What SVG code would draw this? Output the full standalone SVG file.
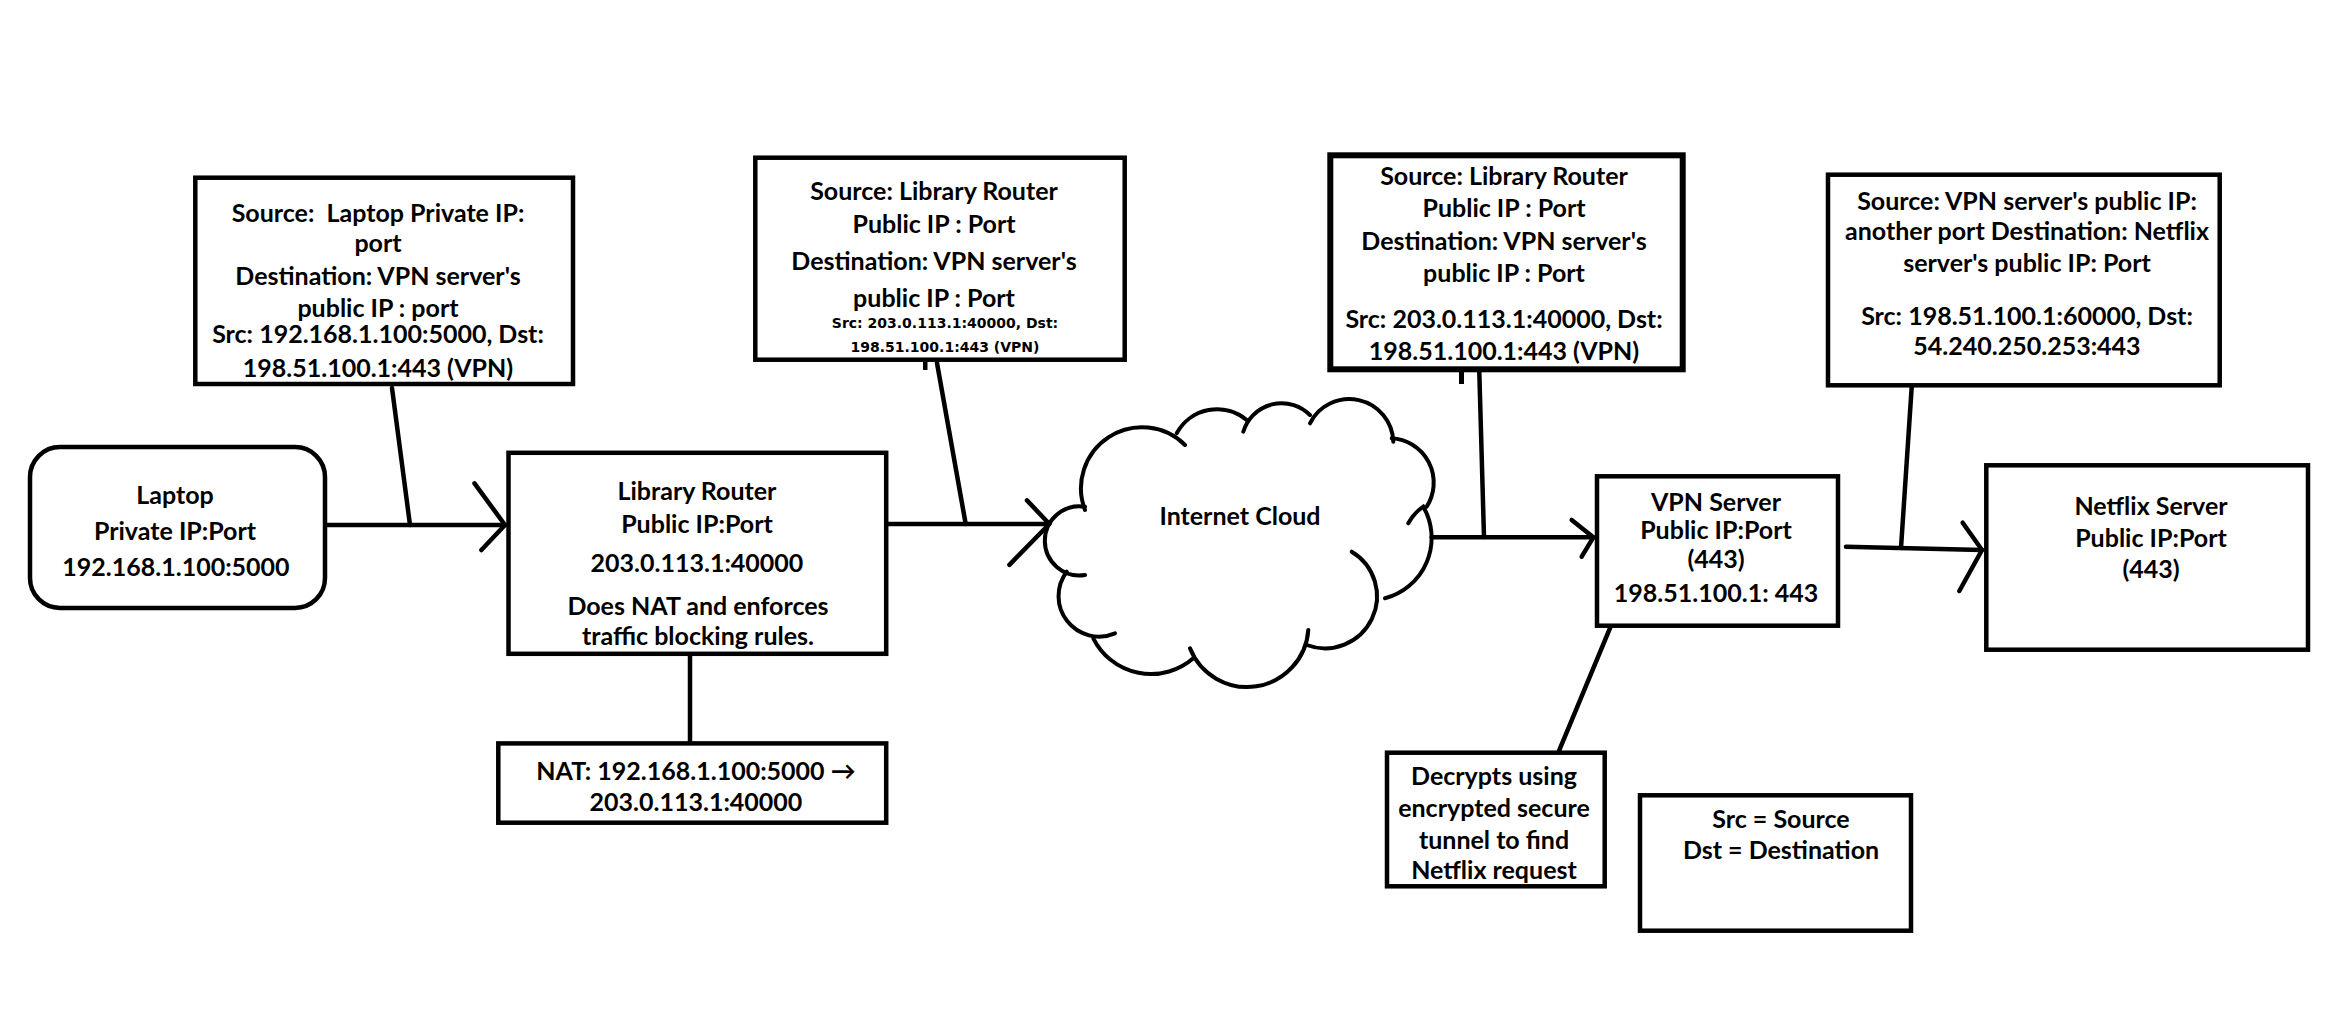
<svg xmlns="http://www.w3.org/2000/svg" width="2327" height="1012" viewBox="0 0 2327 1012">
<style>
  .bg { fill: #ffffff; }
  .box { fill: #ffffff; stroke: #000000; stroke-width: 4.5; }
  .thick { stroke-width: 6; }
  .ln { fill: none; stroke: #000000; stroke-width: 4.5; stroke-linecap: round; stroke-linejoin: round; }
  .cl { fill: none; stroke: #000000; stroke-width: 4; stroke-linecap: round; }
  text { font-family: Lato, "Open Sans", "Liberation Sans", sans-serif; font-weight: 700; fill: #000000; text-anchor: middle; font-size: 25px; }
  .small { font-family: "DejaVu Sans", Verdana, sans-serif; font-size: 14px; }
  .pre { white-space: pre; }
</style>
<rect class="bg" x="0" y="0" width="2327" height="1012"/>

<g id="connectors">
  <!-- Laptop -> Router -->
  <path class="ln" d="M327 525 H505"/>
  <path class="ln" d="M474.5 483.3 L505 525 L481.4 550"/>
  <!-- Router -> Cloud -->
  <path class="ln" d="M888 524 H1049"/>
  <path class="ln" d="M1027 500.4 L1049.4 524 L1009.4 564.8"/>
  <!-- Cloud -> VPN -->
  <path class="ln" d="M1431.7 537.3 H1593"/>
  <path class="ln" d="M1571.7 520 L1593.3 537.3 L1581.7 556.7"/>
  <!-- VPN -> Netflix -->
  <path class="ln" d="M1846 546.7 L1982 550"/>
  <path class="ln" d="M1962.7 522.7 L1982 550 L1959.3 591"/>
  <!-- callouts -->
  <path class="ln" d="M392 388 L410 525"/>
  <path class="ln" d="M937 363 L965.7 524"/>
  <rect x="923" y="362" width="4.5" height="8" fill="#000"/>
  <path class="ln" d="M1479.3 372 L1484 537"/>
  <rect x="1459" y="372" width="5" height="12" fill="#000"/>
  <path class="ln" d="M1911.7 387 L1901 548"/>
  <path class="ln" d="M690 655.8 V741.4"/>
  <path class="ln" d="M1612.7 621.7 L1552.7 766"/>
</g>

<g id="laptop">
  <rect class="box" x="30" y="447" width="295" height="161" rx="30" ry="30"/>
  <text x="175" y="504" font-size="28">Laptop</text>
  <text x="175" y="540" font-size="28">Private IP:Port</text>
  <text x="176" y="576" font-size="24">192.168.1.100:5000</text>
</g>

<g id="note-laptop-packet">
  <rect class="box" x="195.3" y="177.7" width="377.7" height="206.3"/>
  <text class="pre" x="378" y="221.7">Source:  Laptop Private IP:</text>
  <text x="378" y="251.7">port</text>
  <text x="378" y="285">Destination: VPN server's</text>
  <text x="378" y="316.7">public IP : port</text>
  <text x="378" y="342.7" font-size="24">Src: 192.168.1.100:5000, Dst:</text>
  <text x="378" y="376.7" font-size="24">198.51.100.1:443 (VPN)</text>
</g>

<g id="library-router">
  <rect class="box" x="508.5" y="452.8" width="377.7" height="201"/>
  <text x="697" y="500.4" font-size="24">Library Router</text>
  <text x="697" y="533.2" font-size="24">Public IP:Port</text>
  <text x="697" y="572.4" font-size="24">203.0.113.1:40000</text>
  <text x="698" y="615.2" font-size="24.5">Does NAT and enforces</text>
  <text x="698" y="645.4" font-size="24.5">traffic blocking rules.</text>
</g>

<g id="nat-note">
  <rect class="box" x="498.3" y="743.4" width="387.9" height="79.3"/>
  <text x="696" y="779.6">NAT: 192.168.1.100:5000 →</text>
  <text x="696" y="811.2">203.0.113.1:40000</text>
</g>

<g id="note-router-packet">
  <rect class="box" x="755.3" y="157.7" width="369.4" height="202"/>
  <text x="934" y="200" font-size="26">Source: Library Router</text>
  <text x="934" y="233.3" font-size="26">Public IP : Port</text>
  <text x="934" y="270" font-size="26">Destination: VPN server's</text>
  <text x="934" y="306.7" font-size="26">public IP : Port</text>
  <text class="small" x="945" y="328.3">Src: 203.0.113.1:40000, Dst:</text>
  <text class="small" x="945" y="351.7">198.51.100.1:443 (VPN)</text>
</g>

<g id="internet-cloud">
  <path class="cl" d="M1085 575 A34.6 34.6 0 1 1 1085 506.7"/>
  <path class="cl" d="M1085 510 A61 61 0 0 1 1185 445"/>
  <path class="cl" d="M1176.7 433.3 A46 46 0 0 1 1246.7 420"/>
  <path class="cl" d="M1243.3 431.7 A40 40 0 0 1 1310 415"/>
  <path class="cl" d="M1310 423.3 A44 44 0 0 1 1393.3 441.7"/>
  <path class="cl" d="M1391.7 438.3 A44.5 44.5 0 0 1 1426.7 506.7"/>
  <path class="cl" d="M1408.3 523.3 Q1414 513 1423.3 506.7 A62.5 62.5 0 0 1 1385 598.3"/>
  <path class="cl" d="M1351.7 551.7 A52 52 0 0 1 1306.7 645"/>
  <path class="cl" d="M1308.3 630 A61.4 61.4 0 0 1 1190 648.3"/>
  <path class="cl" d="M1193.3 658.3 A64.5 64.5 0 0 1 1093.3 638.3"/>
  <path class="cl" d="M1115 633.3 A40.5 40.5 0 0 1 1066.7 571.7"/>
  <text x="1240" y="525" font-size="21.5">Internet Cloud</text>
</g>

<g id="note-public-packet">
  <rect class="box thick" x="1330.3" y="155.3" width="352.4" height="214"/>
  <text x="1504" y="185">Source: Library Router</text>
  <text x="1504" y="217.3">Public IP : Port</text>
  <text x="1504" y="250">Destination: VPN server's</text>
  <text x="1504" y="281.7">public IP : Port</text>
  <text x="1504" y="328.3" font-size="24">Src: 203.0.113.1:40000, Dst:</text>
  <text x="1504" y="360" font-size="24">198.51.100.1:443 (VPN)</text>
</g>

<g id="vpn-server">
  <rect class="box" x="1597" y="476.3" width="241" height="149.4"/>
  <text x="1716" y="510.7" font-size="21">VPN Server</text>
  <text x="1716" y="539" font-size="21">Public IP:Port</text>
  <text x="1716" y="568.3" font-size="21">(443)</text>
  <text x="1716" y="601.7" font-size="24">198.51.100.1: 443</text>
</g>

<g id="decrypt-note">
  <rect class="box" x="1387" y="752.7" width="217.7" height="133.6"/>
  <text x="1494" y="785" font-size="24">Decrypts using</text>
  <text x="1494" y="816.7" font-size="24">encrypted secure</text>
  <text x="1494" y="849.3" font-size="24">tunnel to find</text>
  <text x="1494" y="879.3" font-size="24">Netflix request</text>
</g>

<g id="legend">
  <rect class="box" x="1640" y="795.3" width="271" height="135.4"/>
  <text x="1781" y="828.3" font-size="24.5">Src = Source</text>
  <text x="1781" y="859.3" font-size="24.5">Dst = Destination</text>
</g>

<g id="note-vpn-packet">
  <rect class="box" x="1828" y="174.7" width="391.7" height="210.6"/>
  <text x="2027" y="210">Source: VPN server's public IP:</text>
  <text x="2027" y="240">another port Destination: Netflix</text>
  <text x="2027" y="271.7">server's public IP: Port</text>
  <text x="2027" y="325" font-size="24">Src: 198.51.100.1:60000, Dst:</text>
  <text x="2027" y="355" font-size="24">54.240.250.253:443</text>
</g>

<g id="netflix-server">
  <rect class="box" x="1986.3" y="465.3" width="321.7" height="184.4"/>
  <text x="2151" y="515" font-size="23.5">Netflix Server</text>
  <text x="2151" y="546.7" font-size="24">Public IP:Port</text>
  <text x="2151" y="578.3" font-size="24">(443)</text>
</g>
</svg>
